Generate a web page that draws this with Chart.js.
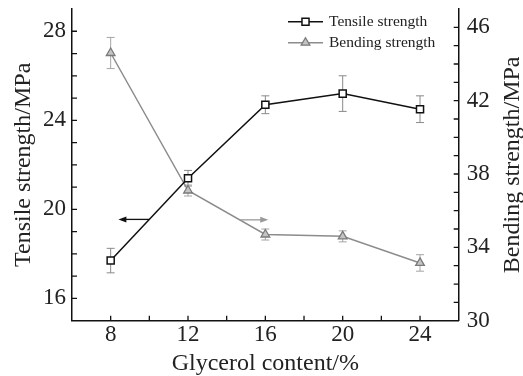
<!DOCTYPE html>
<html>
<head>
<meta charset="utf-8">
<script src="https://cdn.jsdelivr.net/npm/chart.js@4.4.1/dist/chart.umd.min.js"></script>
<style>
  html, body { margin: 0; padding: 0; background: #fff; }
</style>
</head>
<body>
<canvas id="chart" width="523" height="376"></canvas>
<script>
// data
const glycerol = [8, 12, 16, 20, 24];
const tensile = [17.7, 21.4, 24.7, 25.2, 24.5];
const tensileErr = [0.55, 0.35, 0.4, 0.8, 0.6];
const bending = [44.6, 37.1, 34.7, 34.6, 33.15];
const bendingErr = [0.85, 0.3, 0.3, 0.3, 0.45];
const xTicks = [8, 12, 16, 20, 24];
const leftTicks = [16, 20, 24, 28];
const rightTicks = [30, 34, 38, 42, 46];

// arrows telling which axis each curve belongs to (data coords)
const arrowLeft = { x1: 10, x2: 8.4, y: 19.55, axis: 'y' };
const arrowRight = { x1: 14.7, x2: 16.15, y: 35.5, axis: 'y1' };

const serif = '"Liberation Serif", "Times New Roman", serif';

function toPoints(xs, ys) {
    return xs.map((x, i) => ({ x: x, y: ys[i] }));
}

// Error bars, drawn under the lines
const errorBars = {
    id: 'errorBars',
    beforeDatasetsDraw(chart) {
        const ctx = chart.ctx;
        const xs = chart.scales.x;
        const sets = [
            { vals: tensile, err: tensileErr, scale: chart.scales.y, color: '#8a8a8a' },
            { vals: bending, err: bendingErr, scale: chart.scales.y1, color: '#a5a5a5' }
        ];
        ctx.save();
        ctx.lineWidth = 1;
        sets.forEach(s => {
            ctx.strokeStyle = s.color;
            s.vals.forEach((v, i) => {
                const px = xs.getPixelForValue(glycerol[i]);
                const top = s.scale.getPixelForValue(v + s.err[i]);
                const bot = s.scale.getPixelForValue(v - s.err[i]);
                ctx.beginPath();
                ctx.moveTo(px, top); ctx.lineTo(px, bot);
                ctx.moveTo(px - 4, top); ctx.lineTo(px + 4, top);
                ctx.moveTo(px - 4, bot); ctx.lineTo(px + 4, bot);
                ctx.stroke();
            });
        });
        ctx.restore();
    }
};

// inward tick marks, arrows, right axis title and the legend
const extras = {
    id: 'extras',
    afterDraw(chart) {
        const ctx = chart.ctx;
        const area = chart.chartArea;
        const xs = chart.scales.x, yl = chart.scales.y, yr = chart.scales.y1;
        const len = 5;
        ctx.save();
        ctx.strokeStyle = '#111';
        ctx.lineWidth = 1.3;
        ctx.beginPath();
        for (let v = 8; v <= 24; v += 2) {
            const px = xs.getPixelForValue(v);
            ctx.moveTo(px, area.bottom); ctx.lineTo(px, area.bottom - len);
        }
        for (let v = 16; v <= 28; v += 1) {
            const py = yl.getPixelForValue(v);
            ctx.moveTo(area.left, py); ctx.lineTo(area.left + len, py);
        }
        for (let v = 31; v <= 46; v += 1) {
            const py = yr.getPixelForValue(v);
            ctx.moveTo(area.right, py); ctx.lineTo(area.right - len, py);
        }
        ctx.stroke();

        // arrows
        [[arrowLeft, '#111', yl], [arrowRight, '#999', yr]].forEach(([a, color, sc]) => {
            const x1 = xs.getPixelForValue(a.x1), x2 = xs.getPixelForValue(a.x2);
            const py = sc.getPixelForValue(a.y);
            const dir = Math.sign(x2 - x1);
            ctx.strokeStyle = color;
            ctx.fillStyle = color;
            ctx.lineWidth = 1.3;
            ctx.beginPath();
            ctx.moveTo(x1, py); ctx.lineTo(x2 - dir * 6, py);
            ctx.stroke();
            ctx.beginPath();
            ctx.moveTo(x2, py);
            ctx.lineTo(x2 - dir * 8, py - 3);
            ctx.lineTo(x2 - dir * 8, py + 3);
            ctx.closePath();
            ctx.fill();
        });

        // right axis title reads bottom to top, like the left one
        ctx.save();
        ctx.translate(513, (area.top + area.bottom) / 2);
        ctx.rotate(-Math.PI / 2);
        ctx.fillStyle = '#222';
        ctx.font = '24px ' + serif;
        ctx.textAlign = 'center';
        ctx.textBaseline = 'middle';
        ctx.fillText('Bending strength/MPa', 0, 0);
        ctx.restore();

        // legend
        const rows = [21.7, 42.7];
        chart.data.datasets.forEach((ds, i) => {
            const y = rows[i];
            ctx.strokeStyle = ds.borderColor;
            ctx.lineWidth = ds.borderWidth;
            ctx.beginPath();
            ctx.moveTo(288, y); ctx.lineTo(323, y);
            ctx.stroke();
            ctx.fillStyle = ds.pointBackgroundColor;
            ctx.strokeStyle = ds.pointBorderColor;
            ctx.lineWidth = ds.pointBorderWidth;
            Chart.helpers.drawPoint(ctx, {
                pointStyle: ds.pointStyle,
                radius: ds.pointRadius,
                borderWidth: ds.pointBorderWidth,
                rotation: 0
            }, 305.5, y);
            ctx.fillStyle = '#222';
            ctx.font = '15.5px ' + serif;
            ctx.textBaseline = 'middle';
            ctx.textAlign = 'left';
            ctx.fillText(ds.label, 329, y);
        });
        ctx.restore();
    }
};

function noOverflow(s) {
    s.paddingTop = 0;
    s.paddingBottom = 0;
    s.paddingLeft = 0;
    s.paddingRight = 0;
}

new Chart(document.getElementById('chart'), {
    type: 'line',
    data: {
        datasets: [
            {
                label: 'Tensile strength',
                data: toPoints(glycerol, tensile),
                yAxisID: 'y',
                borderColor: '#111',
                borderWidth: 1.5,
                pointStyle: 'rect',
                pointRadius: 5,
                pointBorderWidth: 1.5,
                pointBorderColor: '#111',
                pointBackgroundColor: '#fff'
            },
            {
                label: 'Bending strength',
                data: toPoints(glycerol, bending),
                yAxisID: 'y1',
                borderColor: '#8c8c8c',
                borderWidth: 1.5,
                pointStyle: 'triangle',
                pointRadius: 5,
                pointBorderWidth: 1.3,
                pointBorderColor: '#7a7a7a',
                pointBackgroundColor: '#c4c4c4'
            }
        ]
    },
    options: {
        responsive: false,
        animation: false,
        devicePixelRatio: 1,
        layout: { padding: { top: 9, left: 0, right: 0, bottom: 0 } },
        plugins: { legend: { display: false }, tooltip: { enabled: false } },
        scales: {
            x: {
                type: 'linear',
                min: 6, max: 26,
                afterBuildTicks: s => { s.ticks = xTicks.map(v => ({ value: v })); },
                afterFit: s => { s.height = 55.3; noOverflow(s); },
                grid: { display: true, drawOnChartArea: false, drawTicks: false },
                border: { display: true, color: '#111', width: 1.5 },
                ticks: { color: '#222', padding: 0, font: { family: serif, size: 23 } },
                title: { display: true, text: 'Glycerol content/%', color: '#222', padding: { top: 0, bottom: 0 }, font: { family: serif, size: 24, lineHeight: 1 } }
            },
            y: {
                type: 'linear',
                position: 'left',
                min: 15, max: 29,
                afterBuildTicks: s => { s.ticks = leftTicks.map(v => ({ value: v })); },
                afterFit: s => { s.width = 72; noOverflow(s); },
                grid: { display: true, drawOnChartArea: false, drawTicks: false },
                border: { display: true, color: '#111', width: 1.5 },
                ticks: { color: '#222', padding: 6, font: { family: serif, size: 23 } },
                title: { display: true, text: 'Tensile strength/MPa', color: '#222', padding: { top: 12, bottom: 0 }, font: { family: serif, size: 24, lineHeight: 1 } }
            },
            y1: {
                type: 'linear',
                position: 'right',
                min: 30, max: 47,
                afterBuildTicks: s => { s.ticks = rightTicks.map(v => ({ value: v })); },
                afterFit: s => { s.width = 64.3; noOverflow(s); },
                grid: { display: true, drawOnChartArea: false, drawTicks: false },
                border: { display: true, color: '#111', width: 1.5 },
                ticks: { color: '#222', padding: 8, font: { family: serif, size: 23 } },
                title: { display: false }
            }
        }
    },
    plugins: [errorBars, extras]
});
</script>
</body>
</html>
